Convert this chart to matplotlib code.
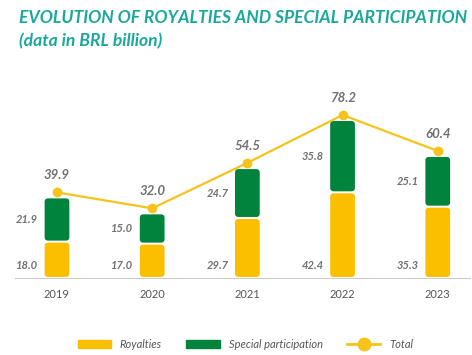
import matplotlib.pyplot as plt
import matplotlib.transforms as mtransforms
from matplotlib.patches import Patch, FancyBboxPatch
from matplotlib.lines import Line2D
import numpy as np

plt.rcParams['font.family'] = ['Lato', 'DejaVu Sans']

years = ['2019', '2020', '2021', '2022', '2023']
royalties = [18.0, 17.0, 29.7, 42.4, 35.3]
special = [21.9, 15.0, 24.7, 35.8, 25.1]
totals = [39.9, 32.0, 54.5, 78.2, 60.4]

yellow = '#fbbf00'
green = '#00843d'
line_col = '#f8c21c'
grey = '#707173'
teal = '#19a89b'

fig = plt.figure(figsize=(4.72, 3.55), dpi=100)
ax = fig.add_axes([0.032, 0.217, 0.964, 0.569])
ax.set_xlim(-0.44, 4.34)
ax.set_ylim(0, 100)

x = np.arange(len(years))
w = 0.26
b1 = ax.bar(x, royalties, width=w, color=yellow)
b2 = ax.bar(x, special, width=w, bottom=royalties, color=green)

# swap the plain rectangles for rounded ones
bb = ax.get_window_extent()
px_x = bb.width / (4.34 + 0.44)
px_y = bb.height / 100
aspect = px_x / px_y
r = 3.5 / px_x
gap = 1.0 / px_y
for rect in list(b1) + list(b2):
    x0, y0 = rect.get_x(), rect.get_y()
    rw, rh = rect.get_width(), rect.get_height()
    p = FancyBboxPatch((x0, y0 + gap), rw, rh - 2 * gap,
                       boxstyle=f'round,pad=0,rounding_size={r}',
                       mutation_aspect=aspect, facecolor=rect.get_facecolor(),
                       edgecolor='none', zorder=2)
    ax.add_patch(p)
    rect.set_visible(False)

# total line sits a bit above the bar tops
up = mtransforms.offset_copy(ax.transData, fig=fig, x=0, y=5, units='dots')
ax.plot(x, totals, color=line_col, lw=1.6, marker='o', ms=6, transform=up, zorder=3)

for i in range(len(years)):
    ax.text(x[i] - 0.315, 6, f'{royalties[i]:.1f}', ha='center', va='center',
            fontsize=8, style='italic', weight='bold', color=grey)
    ax.text(x[i] - 0.315, royalties[i] + special[i] / 2, f'{special[i]:.1f}',
            ha='center', va='center', fontsize=8, style='italic', weight='bold', color=grey)
    ax.text(x[i], totals[i] + 8.5, f'{totals[i]:.1f}', ha='center', va='center',
            fontsize=9.5, style='italic', weight='bold', color=grey, transform=up)

ax.set_xticks(x)
ax.set_xticklabels(years, fontsize=8, color='#555555')
ax.tick_params(axis='x', length=0, pad=8)
ax.set_yticks([])
for s in ['top', 'right', 'left']:
    ax.spines[s].set_visible(False)
ax.spines['bottom'].set_color('#cccccc')
ax.spines['bottom'].set_linewidth(0.8)

fig.text(0.040, 0.950, 'EVOLUTION OF ROYALTIES AND SPECIAL PARTICIPATION', fontsize=12.6,
         style='italic', weight='bold', color=teal, va='center')
fig.text(0.040, 0.884, '(data in BRL billion)', fontsize=12.6,
         style='italic', weight='bold', color=teal, va='center')

handles = [Patch(color=yellow, label='Royalties'),
           Patch(color=green, label='Special participation'),
           Line2D([0], [0], color=line_col, lw=2, marker='o', ms=9, label='Total')]
leg = fig.legend(handles=handles, loc='center', bbox_to_anchor=(0.52, 0.03), ncol=3,
                 frameon=False, handlelength=3.0, handleheight=0.7, columnspacing=2.2,
                 prop={'size': 8, 'style': 'italic'})
for t in leg.get_texts():
    t.set_color('#555555')

fig.savefig('out.png', dpi=100)
